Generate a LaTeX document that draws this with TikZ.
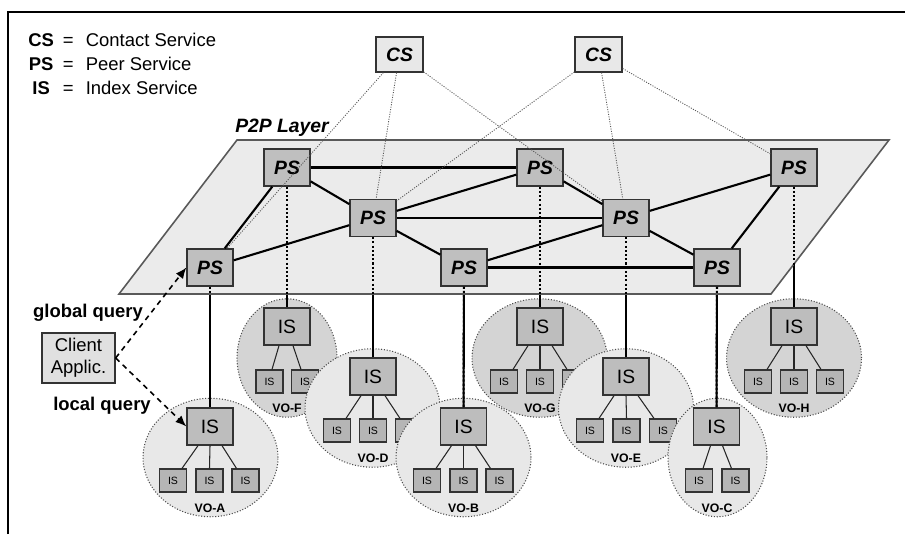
\documentclass[tikz,border=0pt]{standalone}
\usepackage{fontspec}
\setmainfont{Liberation Sans}
\usetikzlibrary{shapes.geometric,calc,arrows.meta}
\pgfdeclarelayer{vo}
\pgfdeclarelayer{wire}
\pgfdeclarelayer{plane}
\pgfsetlayers{vo,wire,plane,main}
\tikzset{
  psbox/.style={draw=black!80, fill=black!25, line width=0.75pt, minimum width=0.92cm, minimum height=0.74cm, inner sep=0pt, font=\fontsize{11}{13}\selectfont\bfseries\itshape},
  csbox/.style={psbox, fill=black!9, minimum width=0.94cm, minimum height=0.70cm},
  isbig/.style={draw=black!80, fill=black!26, line width=0.75pt, minimum width=0.92cm, minimum height=0.74cm, inner sep=0pt, font=\fontsize{11}{13}\selectfont},
  issmall/.style={draw=black!80, fill=black!29, line width=0.7pt, minimum width=0.54cm, minimum height=0.46cm, inner sep=0pt, font=\fontsize{6}{7}\selectfont},
  vofront/.style={ellipse, draw=black!70, densely dotted, line width=0.6pt, fill=black!9, inner sep=0pt, minimum width=2.7cm, minimum height=2.37cm},
  voback/.style={vofront, fill=black!17},
  volabel/.style={inner sep=0pt, font=\fontsize{7}{8}\selectfont\bfseries},
  isline/.style={line width=0.6pt, draw=black!85},
  pslink/.style={line width=1.2pt},
  psdots/.style={line width=1.2pt, dash pattern=on 1.2pt off 1.2pt},
  cslink/.style={line width=0.5pt, draw=black!65, dash pattern=on 0.6pt off 0.8pt},
  planefill/.style={fill=black!8, draw=black!65, line width=0.9pt},
  query/.style={line width=0.9pt, dash pattern=on 3pt off 2.5pt, -{Latex[length=2.2mm, width=1.8mm]}},
  qlabel/.style={inner sep=0pt, font=\fontsize{10.5}{12}\selectfont\bfseries}
}
\begin{document}
\begin{tikzpicture}[x=0.02cm, y=-0.02cm]
  \useasboundingbox (0,0) rectangle (905,534);

  %%frame
  \draw[line width=1.4pt] (8,534) to (8,12) to (905,12);

  %%legend
  \node[anchor=west, inner sep=0pt, font=\fontsize{10.5}{13.7}\selectfont] (legend) at (28,66)
    {\begin{tabular}{@{}c@{\hspace{5pt}=\hspace{7pt}}l@{}}
      \textbf{CS} & Contact Service\\
      \textbf{PS} & Peer Service\\
      \textbf{IS} & Index Service
    \end{tabular}};

  %%cs
  \node[csbox] (cs1) at (399.5,54.5) {CS};
  \node[csbox] (cs2) at (598.5,54.5) {CS};

  %%p2p layer
  \begin{pgfonlayer}{plane}
    \draw[planefill] (119,294) to (237,140) to (889,140) to (771,294) to cycle;
  \end{pgfonlayer}
  \node[inner sep=0pt, font=\fontsize{11}{13}\selectfont\bfseries\itshape] (p2p) at (282,128) {P2P Layer};

  \node[psbox] (psF) at (287,167.5) {PS};
  \node[psbox] (psG) at (540,167.5) {PS};
  \node[psbox] (psH) at (794,167.5) {PS};
  \node[psbox] (psD) at (373,218) {PS};
  \node[psbox] (psE) at (626,218) {PS};
  \node[psbox] (psA) at (210,267.5) {PS};
  \node[psbox] (psB) at (464,267.5) {PS};
  \node[psbox] (psC) at (717,267.5) {PS};

  \draw[pslink] (psA) to (psF);
  \draw[pslink] (psA) to (psD);
  \draw[pslink] (psF) to (psG);
  \draw[pslink] (psF) to (psD);
  \draw[pslink] (psD) to (psG);
  \draw[pslink] (psD) to (psE);
  \draw[pslink] (psD) to (psB);
  \draw[pslink] (psG) to (psE);
  \draw[pslink] (psB) to (psE);
  \draw[pslink] (psB) to (psC);
  \draw[pslink] (psE) to (psH);
  \draw[pslink] (psE) to (psC);
  \draw[pslink] (psC) to (psH);

  \begin{pgfonlayer}{vo}
    %%VO-F
    \node[voback, minimum width=2cm] (voF) at (287,358) {};
    \node[isbig] (isF) at (287,326.5) {IS};
    \node[issmall] (isF1) at (269.5,381.5) {IS};
    \node[issmall] (isF2) at (305,381.5) {IS};
      \draw[isline] ($(isF.south)+(-8,0)$) to ($(isF1.north)+(2.5,0)$);
      \draw[isline] ($(isF.south)+(6,0)$) to ($(isF2.north)+(-4,0)$);
    \node[volabel] (lbF) at (287,408) {VO-F};

    %%VO-D
    \node[vofront] (voD) at (372.5,408) {};
    \node[isbig] (isD) at (373,376.5) {IS};
    \node[issmall] (isD1) at (337,430.5) {IS};
    \node[issmall] (isD2) at (373,430.5) {IS};
    \node[issmall] (isD3) at (409,430.5) {IS};
      \draw[isline] ($(isD.south)+(-12,0)$) to ($(isD1.north)+(9,0)$);
      \draw[isline] (isD.south) to (isD2.north);
      \draw[isline] ($(isD.south)+(12,0)$) to ($(isD3.north)+(-9,0)$);
    \node[volabel] (lbD) at (373,458) {VO-D};

    %%VO-B
    \node[vofront] (voB) at (463.5,457.5) {};
    \node[isbig] (isB) at (463.5,426.5) {IS};
    \node[issmall] (isB1) at (427,480.5) {IS};
    \node[issmall] (isB2) at (463.5,480.5) {IS};
    \node[issmall] (isB3) at (499.5,480.5) {IS};
      \draw[isline] ($(isB.south)+(-12,0)$) to ($(isB1.north)+(9,0)$);
      \draw[isline] (isB.south) to (isB2.north);
      \draw[isline] ($(isB.south)+(12,0)$) to ($(isB3.north)+(-9,0)$);
    \node[volabel] (lbB) at (463.5,508) {VO-B};

    %%VO-G
    \node[voback] (voG) at (539.5,358) {};
    \node[isbig] (isG) at (540,326.5) {IS};
    \node[issmall] (isG1) at (504,381.5) {IS};
    \node[issmall] (isG2) at (540,381.5) {IS};
    \node[issmall] (isG3) at (576,381.5) {IS};
      \draw[isline] ($(isG.south)+(-12,0)$) to ($(isG1.north)+(9,0)$);
      \draw[isline] (isG.south) to (isG2.north);
      \draw[isline] ($(isG.south)+(12,0)$) to ($(isG3.north)+(-9,0)$);
    \node[volabel] (lbG) at (540,408) {VO-G};

    %%VO-E
    \node[vofront] (voE) at (626,408) {};
    \node[isbig] (isE) at (626,376.5) {IS};
    \node[issmall] (isE1) at (590,430.5) {IS};
    \node[issmall] (isE2) at (626.5,430.5) {IS};
    \node[issmall] (isE3) at (663,430.5) {IS};
      \draw[isline] ($(isE.south)+(-12,0)$) to ($(isE1.north)+(9,0)$);
      \draw[isline] (isE.south) to (isE2.north);
      \draw[isline] ($(isE.south)+(12,0)$) to ($(isE3.north)+(-9,0)$);
    \node[volabel] (lbE) at (626,458) {VO-E};

    %%VO-C
    \node[vofront, minimum width=1.98cm] (voC) at (717.5,457.5) {};
    \node[isbig] (isC) at (716.5,426.5) {IS};
    \node[issmall] (isC1) at (699,480.5) {IS};
    \node[issmall] (isC2) at (735.5,480.5) {IS};
      \draw[isline] ($(isC.south)+(-6,0)$) to ($(isC1.north)+(4,0)$);
      \draw[isline] ($(isC.south)+(6,0)$) to ($(isC2.north)+(-4,0)$);
    \node[volabel] (lbC) at (717,508) {VO-C};

    %%VO-H
    \node[voback] (voH) at (794,358) {};
    \node[isbig] (isH) at (794,326.5) {IS};
    \node[issmall] (isH1) at (758,381.5) {IS};
    \node[issmall] (isH2) at (794,381.5) {IS};
    \node[issmall] (isH3) at (830,381.5) {IS};
      \draw[isline] ($(isH.south)+(-12,0)$) to ($(isH1.north)+(9,0)$);
      \draw[isline] (isH.south) to (isH2.north);
      \draw[isline] ($(isH.south)+(12,0)$) to ($(isH3.north)+(-9,0)$);
    \node[volabel] (lbH) at (794,408) {VO-H};

    %%VO-A
    \node[vofront] (voA) at (210.5,457.5) {};
    \node[isbig] (isA) at (210,426.5) {IS};
    \node[issmall] (isA1) at (173,480.5) {IS};
    \node[issmall] (isA2) at (209.5,480.5) {IS};
    \node[issmall] (isA3) at (245.5,480.5) {IS};
      \draw[isline] ($(isA.south)+(-12,0)$) to ($(isA1.north)+(9,0)$);
      \draw[isline] (isA.south) to (isA2.north);
      \draw[isline] ($(isA.south)+(12,0)$) to ($(isA3.north)+(-9,0)$);
    \node[volabel] (lbA) at (210,508) {VO-A};
  \end{pgfonlayer}

  %%ps to is, solid below the layer, dotted on it
  \begin{pgfonlayer}{wire}
    \draw[pslink] (psA) to (isA);
    \draw[pslink] (psF) to (isF);
    \draw[pslink] (psD) to (isD);
    \draw[pslink] (psB) to (isB);
    \draw[pslink] (psG) to (isG);
    \draw[pslink] (psE) to (isE);
    \draw[pslink] (psC) to (isC);
    \draw[pslink] (psH) to (isH);
  \end{pgfonlayer}
  \draw[psdots] (psA) to (isA);
  \draw[psdots] (psF) to (isF);
  \draw[psdots] (psD) to (isD);
  \draw[psdots] (psB) to (isB);
  \draw[psdots] (psG) to (isG);
  \draw[psdots] (psE) to (isE);
  \draw[psdots] (psC) to (isC);
  \draw[psdots] (psH) to (isH);

  %%cs links
  \draw[cslink] (cs1) to (psA);
  \draw[cslink] (cs1) to (psD);
  \draw[cslink] (cs1) to (psE);
  \draw[cslink] (cs2) to (psD);
  \draw[cslink] (cs2) to (psE);
  \draw[cslink] (cs2) to (psH);

  %%client
  \node[draw=black!80, fill=black!12, line width=0.75pt, minimum width=1.46cm, minimum height=1cm, inner sep=0pt, align=center, font=\fontsize{10.5}{12.5}\selectfont] (client) at (78.5,358) {Client\\Applic.};
  \node[qlabel] (glob) at (88,313) {global query};
  \node[qlabel] (loc) at (102,406) {local query};
  \draw[query] (client.east) to (psA.west);
  \draw[query] (client.east) to (isA.west);

\end{tikzpicture}
\end{document}
